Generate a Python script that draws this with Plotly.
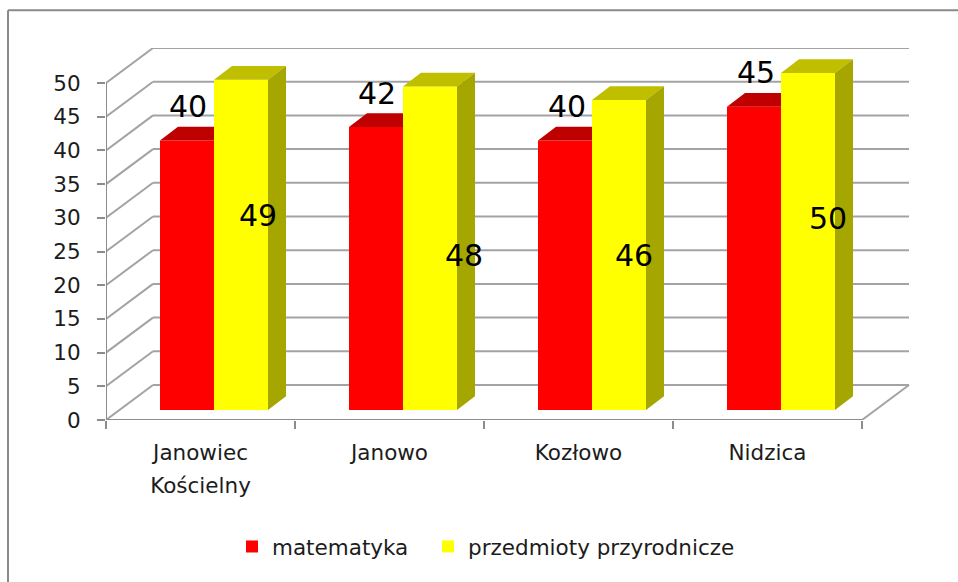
import plotly.graph_objects as go

categories = ["Janowiec Kościelny", "Janowo", "Kozłowo", "Nidzica"]
tick_lines = [["Janowiec", "Kościelny"], ["Janowo"], ["Kozłowo"], ["Nidzica"]]
matematyka = [40, 42, 40, 45]
przyrodnicze = [49, 48, 46, 50]
y_ticks = [0, 5, 10, 15, 20, 25, 30, 35, 40, 45, 50]

# label nudges in px (right, up)
red_nudge = [(0.5, 34), (0.5, 33.6), (1.5, 34), (1.5, 34)]
yel_nudge = [(16.5, -135.6), (33.5, -168.8), (14.5, -155.3), (19.5, -145.3)]

# pixel geometry
W, H = 958, 582
L, R, T, B = 106, 910, 47.7, 419.7
PX = 189.0   # px per category
PY = 6.74    # px per y unit
wall_dx, wall_dy = 47 / PX, 35 / PY
off_dx, off_dy = 13.5 / PX, 10 / PY
dep_dx, dep_dy = 18 / PX, 13.7 / PY
bw = 54 / PX
GRID = "#A3A3A3"
AXIS = "#8C8C8C"
FONT = "DejaVu Sans"
TXT = "#1c1c1c"

n = len(categories)
red_x = [i + 0.5 + off_dx - bw / 2 for i in range(n)]
yel_x = [i + 0.5 + off_dx + bw / 2 for i in range(n)]

fig = go.Figure()
fig.add_bar(x=red_x, y=matematyka, base=off_dy, width=bw, name="matematyka", legend="legend",
            marker=dict(color="#FF0000", line=dict(width=0)))
fig.add_bar(x=yel_x, y=przyrodnicze, base=off_dy, width=bw, name="przedmioty przyrodnicze", legend="legend2",
            marker=dict(color="#FFFF00", line=dict(width=0)))


def poly(xs, ys, color):
    fig.add_scatter(x=xs, y=ys, mode="lines", fill="toself", fillcolor=color,
                    line=dict(width=0, color=color), showlegend=False, hoverinfo="skip")


rx, ry, yx, yy, sx, sy = [], [], [], [], [], []
for i in range(n):
    t = matematyka[i] + off_dy
    l, r = red_x[i] - bw / 2, red_x[i] + bw / 2
    rx += [l, l + dep_dx, r, r, l, None]
    ry += [t, t + dep_dy, t + dep_dy, t, t, None]
    t = przyrodnicze[i] + off_dy
    l, r = yel_x[i] - bw / 2, yel_x[i] + bw / 2
    yx += [l, l + dep_dx, r + dep_dx, r, l, None]
    yy += [t, t + dep_dy, t + dep_dy, t, t, None]
    sx += [r, r + dep_dx, r + dep_dx, r, r, None]
    sy += [off_dy, off_dy + dep_dy, t + dep_dy, t, off_dy, None]
poly(rx, ry, "#BF0000")
poly(yx, yy, "#BFBF00")
poly(sx, sy, "#A6A600")

shapes = []


def seg(x0, y0, x1, y1, color=GRID, w=2):
    shapes.append(dict(type="line", xref="x", yref="y", x0=x0, y0=y0, x1=x1, y1=y1,
                       layer="below", line=dict(color=color, width=w)))


for v in y_ticks:
    seg(wall_dx, v + wall_dy, n + wall_dx, v + wall_dy)
    seg(0, v, wall_dx, v + wall_dy)
seg(n, 0, n + wall_dx, wall_dy)
seg(0, 0, n, 0, AXIS)
seg(0, 0, 0, y_ticks[-1], AXIS)

# chart frame: left and top edges only
fx = lambda p: (p - L) / (R - L)
fy = lambda p: (B - p) / (B - T)
for a, b, c, d in [(8, 10, W, 10), (8, 10, 8, H)]:
    shapes.append(dict(type="line", xref="paper", yref="paper", x0=fx(a), y0=fy(b), x1=fx(c), y1=fy(d),
                       line=dict(color="#8A8A8A", width=2)))

anns = []
for i in range(n):
    for xs, vals, nudge in ((red_x, matematyka, red_nudge), (yel_x, przyrodnicze, yel_nudge)):
        anns.append(dict(x=xs[i], y=vals[i] + off_dy, text=str(vals[i]), showarrow=False,
                         xanchor="center", yanchor="middle", xshift=nudge[i][0], yshift=nudge[i][1],
                         font=dict(family=FONT, size=30, color="#000000")))

ticktext = ["<br>".join(f'<span style="font-size:21.5px">{s}</span>' for s in lines) for lines in tick_lines]


def legend_at(px, py):
    return dict(xref="container", yref="container", x=px / W, y=1 - py / H, xanchor="left", yanchor="top",
                font=dict(family=FONT, size=21.5, color=TXT), bgcolor="rgba(0,0,0,0)")


fig.update_layout(
    width=W, height=H, autosize=False,
    margin=dict(l=L, r=W - R, t=T, b=H - B, pad=0, autoexpand=False),
    paper_bgcolor="white", plot_bgcolor="white",
    barmode="overlay", shapes=shapes, annotations=anns,
    font=dict(family=FONT, color=TXT),
    legend=legend_at(232, 526),
    legend2=legend_at(428, 526),
    xaxis=dict(range=[0, (R - L) / PX], tickmode="array", tickvals=[i + 0.5 for i in range(n)],
               ticktext=ticktext, ticks="", showgrid=False, zeroline=False, showline=False,
               tickangle=0, tickfont=dict(family=FONT, size=25, color=TXT), ticklabelstandoff=14,
               minor=dict(tickmode="array", tickvals=list(range(n + 1)), ticks="outside", ticklen=8,
                          tickwidth=2, tickcolor=AXIS, showgrid=False)),
    yaxis=dict(range=[0, (B - T) / PY], tickmode="array", tickvals=y_ticks, ticks="outside", ticklen=8,
               tickwidth=2, tickcolor=AXIS, showgrid=False, zeroline=False, showline=False,
               tickfont=dict(family=FONT, size=21.5, color=TXT), ticklabelstandoff=12),
)

fig.write_html("out.html", config={"displayModeBar": False},
               post_script="document.body.style.margin='0';document.body.style.overflow='hidden';")
